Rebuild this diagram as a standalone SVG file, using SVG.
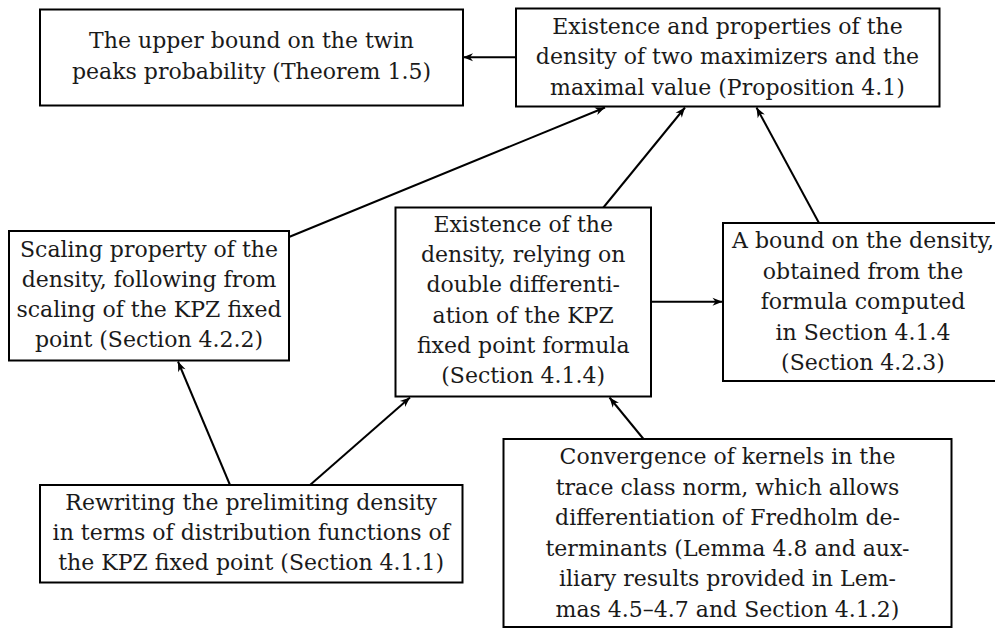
<svg xmlns="http://www.w3.org/2000/svg" width="995" height="628" viewBox="0 0 995 628">
<style>
.box{fill:#fff;stroke:#000;stroke-width:2}
.t{font-family:"DejaVu Serif","Liberation Serif",serif;font-size:22px;fill:#1a1a1a;text-anchor:middle}
.edge{stroke:#000;stroke-width:2;fill:none;marker-end:url(#ah)}
</style>
<defs>
<marker id="ah" viewBox="-11 -5 12 10" refX="0" refY="0" markerUnits="userSpaceOnUse" markerWidth="12" markerHeight="10" orient="auto">
<path d="M0,0 L-10,-4 L-7,0 L-10,4 Z" fill="#000"/>
</marker>
</defs>
<rect width="995" height="628" fill="#fff"/>
<g id="connectors">
<line class="edge" x1="516" y1="57.3" x2="463" y2="57.3"/>
<line class="edge" x1="289" y1="237" x2="605" y2="107.5"/>
<line class="edge" x1="603" y1="208" x2="685" y2="107.5"/>
<line class="edge" x1="819" y1="223" x2="756.5" y2="107.5"/>
<line class="edge" x1="651" y1="301.7" x2="722.5" y2="301.7"/>
<line class="edge" x1="230" y1="485" x2="178" y2="361.5"/>
<line class="edge" x1="310" y1="485" x2="410" y2="397.5"/>
<line class="edge" x1="643.5" y1="439" x2="609.5" y2="397.5"/>
</g>
<g id="n1">
<rect class="box" x="40" y="9.5" width="423" height="96"/>
<text class="t" x="251.5" y="48">The upper bound on the twin</text>
<text class="t" x="251.5" y="79">peaks probability (Theorem 1.5)</text>
</g>
<g id="n2">
<rect class="box" x="516" y="8.5" width="423.5" height="98"/>
<text class="t" x="727.5" y="33.5">Existence and properties of the</text>
<text class="t" x="727.5" y="64">density of two maximizers and the</text>
<text class="t" x="727.5" y="94.5">maximal value (Proposition 4.1)</text>
</g>
<g id="n3">
<rect class="box" x="9" y="231" width="280" height="129.5"/>
<text class="t" x="149" y="256.5">Scaling property of the</text>
<text class="t" x="149" y="286.5">density, following from</text>
<text class="t" x="149" y="316.5">scaling of the KPZ fixed</text>
<text class="t" x="149" y="346.5">point (Section 4.2.2)</text>
</g>
<g id="n4">
<rect class="box" x="395.5" y="207.5" width="255.5" height="189"/>
<text class="t" x="523.2" y="232">Existence of the</text>
<text class="t" x="523.2" y="262.2">density, relying on</text>
<text class="t" x="523.2" y="292.4">double differenti-</text>
<text class="t" x="523.2" y="322.6">ation of the KPZ</text>
<text class="t" x="523.2" y="352.8">fixed point formula</text>
<text class="t" x="523.2" y="383">(Section 4.1.4)</text>
</g>
<g id="n5">
<rect class="box" x="723" y="223" width="280" height="158"/>
<text class="t" x="863" y="248">A bound on the density,</text>
<text class="t" x="863" y="278.5">obtained from the</text>
<text class="t" x="863" y="309">formula computed</text>
<text class="t" x="863" y="339.5">in Section 4.1.4</text>
<text class="t" x="863" y="370">(Section 4.2.3)</text>
</g>
<g id="n6">
<rect class="box" x="40" y="485" width="422.5" height="97.5"/>
<text class="t" x="251.2" y="509.5">Rewriting the prelimiting density</text>
<text class="t" x="251.2" y="539.5">in terms of distribution functions of</text>
<text class="t" x="251.2" y="570">the KPZ fixed point (Section 4.1.1)</text>
</g>
<g id="n7">
<rect class="box" x="503.5" y="439" width="448" height="188"/>
<text class="t" x="727.5" y="464">Convergence of kernels in the</text>
<text class="t" x="727.5" y="494.6">trace class norm, which allows</text>
<text class="t" x="727.5" y="525.2">differentiation of Fredholm de-</text>
<text class="t" x="727.5" y="555.8">terminants (Lemma 4.8 and aux-</text>
<text class="t" x="727.5" y="586.4">iliary results provided in Lem-</text>
<text class="t" x="727.5" y="617">mas 4.5–4.7 and Section 4.1.2)</text>
</g>
</svg>
